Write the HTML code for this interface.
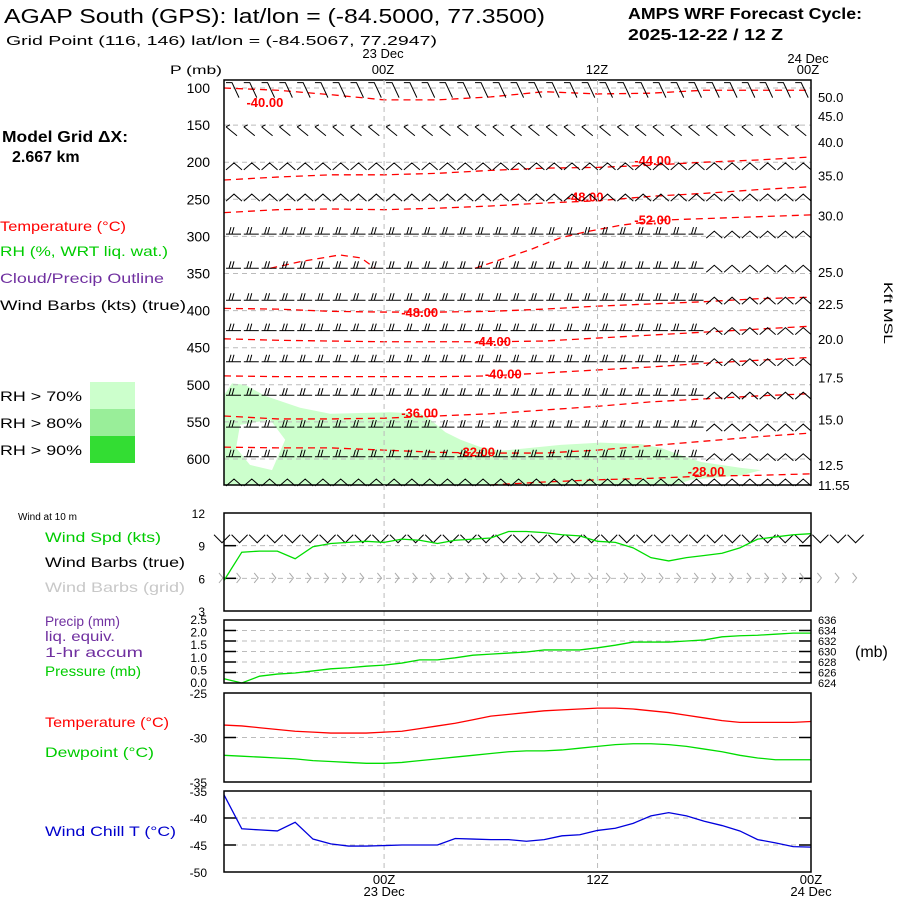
<!DOCTYPE html>
<html><head><meta charset="utf-8"><style>
html,body{margin:0;padding:0;background:#fff;}
svg text{font-family:"Liberation Sans",sans-serif;}
</style></head><body>
<svg id="c" width="900" height="900" viewBox="0 0 900 900" xmlns="http://www.w3.org/2000/svg">
<g>
<text x="4" y="23" font-size="20" textLength="541" lengthAdjust="spacingAndGlyphs">AGAP South (GPS):  lat/lon = (-84.5000, 77.3500)</text>
<text x="6" y="45" font-size="13" textLength="431" lengthAdjust="spacingAndGlyphs">Grid Point (116, 146) lat/lon = (-84.5067, 77.2947)</text>
<text x="628" y="19" font-size="16" font-weight="bold" textLength="234" lengthAdjust="spacingAndGlyphs">AMPS WRF Forecast Cycle:</text>
<text x="628" y="40" font-size="16" font-weight="bold" textLength="155" lengthAdjust="spacingAndGlyphs">2025-12-22 / 12  Z</text>
<text x="2" y="142" font-size="16" font-weight="bold" textLength="126" lengthAdjust="spacingAndGlyphs">Model Grid ΔX:</text>
<text x="12" y="162" font-size="16" font-weight="bold">2.667 km</text>
<text x="0" y="231" font-size="14" fill="#ff0000" textLength="126" lengthAdjust="spacingAndGlyphs">Temperature (°C)</text>
<text x="0" y="256" font-size="14" fill="#00cc00" textLength="168" lengthAdjust="spacingAndGlyphs">RH (%, WRT liq. wat.)</text>
<text x="0" y="283" font-size="14" fill="#7030a0" textLength="164" lengthAdjust="spacingAndGlyphs">Cloud/Precip Outline</text>
<text x="0" y="310" font-size="14" textLength="186" lengthAdjust="spacingAndGlyphs">Wind Barbs (kts) (true)</text>
<text x="0" y="401" font-size="14" textLength="82" lengthAdjust="spacingAndGlyphs">RH &gt; 70%</text>
<text x="0" y="428" font-size="14" textLength="82" lengthAdjust="spacingAndGlyphs">RH &gt; 80%</text>
<text x="0" y="455" font-size="14" textLength="82" lengthAdjust="spacingAndGlyphs">RH &gt; 90%</text>
<rect x="90" y="382" width="45" height="27" fill="#ccffcc"/>
<rect x="90" y="409" width="45" height="27" fill="#99ee99"/>
<rect x="90" y="436" width="45" height="27" fill="#33dd33"/>
<text x="170" y="74" font-size="12" textLength="52" lengthAdjust="spacingAndGlyphs">P (mb)</text>
<text x="884" y="282" font-size="12" transform="rotate(90 884 282)" textLength="62" lengthAdjust="spacingAndGlyphs">Kft MSL</text>
<text x="18" y="520" font-size="10">Wind at 10 m</text>
<text x="45" y="542" font-size="14" fill="#00cc00" textLength="116" lengthAdjust="spacingAndGlyphs">Wind Spd (kts)</text>
<text x="45" y="567" font-size="14" textLength="140" lengthAdjust="spacingAndGlyphs">Wind Barbs (true)</text>
<text x="45" y="592" font-size="14" fill="#c8c8c8" textLength="140" lengthAdjust="spacingAndGlyphs">Wind Barbs (grid)</text>
<text x="45" y="626" font-size="14" fill="#7030a0" textLength="75" lengthAdjust="spacingAndGlyphs">Precip (mm)</text>
<text x="45" y="641" font-size="14" fill="#7030a0" textLength="70" lengthAdjust="spacingAndGlyphs">liq. equiv.</text>
<text x="45" y="657" font-size="14" fill="#7030a0" textLength="98" lengthAdjust="spacingAndGlyphs">1-hr accum</text>
<text x="45" y="676" font-size="14" fill="#00cc00" textLength="96" lengthAdjust="spacingAndGlyphs">Pressure (mb)</text>
<text x="855" y="657" font-size="16">(mb)</text>
<text x="45" y="727" font-size="14" fill="#ff0000" textLength="124" lengthAdjust="spacingAndGlyphs">Temperature (°C)</text>
<text x="45" y="757" font-size="14" fill="#00cc00" textLength="109" lengthAdjust="spacingAndGlyphs">Dewpoint (°C)</text>
<text x="45" y="836" font-size="14" fill="#0000cc" textLength="131" lengthAdjust="spacingAndGlyphs">Wind Chill T (°C)</text>
</g>
</svg>
<script>
// ---- data ----
const timeLabelsTop = ["23 Dec","00Z","12Z","24 Dec","00Z"];
const pressTicks = [100,150,200,250,300,350,400,450,500,550,600];
const kftLabels = ["50.0","45.0","40.0","35.0","30.0","25.0","22.5","20.0","17.5","15.0","12.5","11.55"];
const kftMb = [112,138,173,218,272,348,391,438,490,547,608,635];
const contourHours = [0,3,6,9,12,15,18,21,24,27,30,33];
const c1 = [100,103,109,116,116,112,105,108,107,103,103,103];
const c2 = [224,220,217,217,215,211,208,207,204,200,197,193];
const c3 = [268,264,263,264,262,259,255,252,246,242,237,233];
const c5 = [397,398,401,402,402,401,398,394,391,388,384,382];
const c6 = [438,440,441,442,442,442,441,437,433,429,425,421];
const c7 = [488,489,489,489,489,488,484,480,476,471,467,463];
const c8 = [542,546,546,545,542,539,534,529,523,519,515,512];
const c9 = [584,585,585,588,591,592,592,588,582,576,570,565];
const c4Hours = [14.1,17.2,18.9,20.3,22.3,24.6,33];
const c4Press = [343,318,302,294,285,278,271];
const c4bHours = [2.6,4.3,6.5,7.7,8.5];
const c4bPress = [343,334,325,329,343];
const c10Hours = [15,18,21,24,27,30,33];
const c10Press = [635,631,628,626,623,622,620];
const contourLabels = ["-40.00","-44.00","-48.00","-52.00","-48.00","-44.00","-40.00","-36.00","-32.00","-28.00"];
const labelHours = [2.3,24.1,20.3,24.1,11,15.1,15.7,11,14.2,27.1];
const labelPress = [119,197,246,277,402,441,485,537,590,616];
const rhHours = [0,0.45,1.18,2.31,4.28,5.97,9.35,11.04,11.6,12.45,13.3,14.42,15.55,18.93,21.18,23.44,24.56,25.69,26.82,29.07,30.2,29.07,26.25,25.4,0];
const rhPress = [514,498,500,515,531,539,537,539,547,564,574,584,589,581,578,580,585,595,604,612,615,622,628,635,635];
const holeHours = [0.9,2.59,3.44,2.7,1.46,0.68];
const holePress = [554,547,574,615,608,585];
const barbPress = [113,159,205,247,297,343,386,427,469,514,557,597,631];
const windSpd = [5.8,8.4,8.5,8.5,7.8,8.9,9.2,9.3,9.4,9.3,9.6,9.5,9.2,9.5,9.6,9.7,10.3,10.3,10.2,10.0,9.9,9.4,9.3,8.8,7.9,7.6,7.9,8.1,8.3,8.8,9.6,9.8,10.0,10.1];
const pressure = [624.8,624.0,625.3,625.7,625.9,626.3,626.7,626.9,627.2,627.4,627.8,628.4,628.4,628.8,629.3,629.5,629.7,629.9,630.3,630.3,630.3,630.7,631.2,631.8,631.8,631.8,632.0,632.2,632.8,633.0,633.1,633.3,633.5,633.5];
const temp = [-28.6,-28.7,-28.9,-29.1,-29.3,-29.4,-29.5,-29.5,-29.5,-29.4,-29.3,-29.0,-28.7,-28.4,-28.0,-27.6,-27.4,-27.2,-27.0,-26.9,-26.8,-26.7,-26.7,-26.8,-27.0,-27.2,-27.5,-27.8,-28.1,-28.3,-28.3,-28.3,-28.3,-28.2];
const dewp = [-32.0,-32.1,-32.2,-32.3,-32.4,-32.6,-32.7,-32.8,-32.9,-32.9,-32.8,-32.6,-32.4,-32.2,-32.0,-31.8,-31.6,-31.5,-31.5,-31.4,-31.2,-31.0,-30.8,-30.7,-30.7,-30.8,-31.0,-31.3,-31.6,-32.0,-32.3,-32.5,-32.5,-32.5];
const windChill = [-35.7,-42.0,-42.2,-42.4,-40.8,-43.9,-44.8,-45.2,-45.2,-45.1,-45.0,-45.0,-45.0,-43.8,-43.9,-44.0,-44.0,-44.3,-44.0,-43.3,-43.1,-42.3,-41.9,-41.0,-39.6,-39.0,-39.6,-40.6,-41.4,-42.4,-44.0,-44.6,-45.3,-45.4];
const windTicks = [12,9,6,3];
const precipTicks = ["2.5","2.0","1.5","1.0","0.5","0.0"];
const presTicksR = [636,634,632,630,628,626,624];
const tempTicks = [-25,-30,-35];
const wcTicks = [-35,-40,-45,-50];

// ---- scales ----
const X0=224,X1=811,NH=33;
const x=h=>X0+h*(X1-X0)/NH;
const yP=p=>88+(p-100)*0.742;
const lin=(v,a,b,ya,yb)=>ya+(v-a)*(yb-ya)/(b-a);
const svg=document.getElementById('c');
const NS='http://www.w3.org/2000/svg';
function mk(tag,attrs,parent){const e=document.createElementNS(NS,tag);for(const k in attrs)e.setAttribute(k,attrs[k]);(parent||svg).appendChild(e);return e;}
function txt(s,xx,yy,attrs,parent){const e=mk('text',Object.assign({x:xx,y:yy},attrs),parent);e.textContent=s;return e;}

// ---- main panel ----
const main=mk('g',{});


const rhPts=rhHours.map((h,i)=>x(h)+','+yP(rhPress[i])).join(' ');
const rh=mk('polygon',{points:rhPts,fill:'#ccffcc'},main);


const hole=mk('polygon',{points:holeHours.map((h,i)=>x(h)+','+yP(holePress[i])).join(' '),fill:'#fff'},main);


pressTicks.forEach(p=>{
  const g=mk('line',{x1:X0,x2:X1,y1:yP(p),y2:yP(p),stroke:'#bbb','stroke-dasharray':'5,4'},main);
  
  
  const t=txt(String(p),210,yP(p)+5,{'font-size':14,'text-anchor':'end'},main);
  
  
});
[9,21].forEach(h=>{
  const v=mk('line',{x1:x(h),x2:x(h),y1:80,y2:872,stroke:'#bbb','stroke-dasharray':'5,4'});
  
  
});
kftLabels.forEach((s,i)=>{
  const t=txt(s,818,yP(kftMb[i])+5,{'font-size':13},main);
  
  
});
function contour(hs,ps,name){
  const p=mk('polyline',{points:hs.map((h,i)=>x(h)+','+yP(ps[i])).join(' '),fill:'none',stroke:'#ff0000','stroke-width':1.3,'stroke-dasharray':'7,5'},main);
  
  
}
contour(contourHours,c1,'isotherm-upper-40');
contour(contourHours,c2,'isotherm-upper-44');
contour(contourHours,c3,'isotherm-upper-48');
contour(c4Hours,c4Press,'isotherm-52');
contour(c4bHours,c4bPress,'isotherm-52-left');
contour(contourHours,c5,'isotherm-48');
contour(contourHours,c6,'isotherm-44');
contour(contourHours,c7,'isotherm-40');
contour(contourHours,c8,'isotherm-36');
contour(contourHours,c9,'isotherm-32');
contour(c10Hours,c10Press,'isotherm-28');
contourLabels.forEach((s,i)=>{
  const t=txt(s,x(labelHours[i]),yP(labelPress[i])+5,{'font-size':13,'font-weight':'bold',fill:'#ff0000','text-anchor':'middle'},main);
  
  
});
barbPress.forEach((p,r)=>{
  const y=yP(p);let d='';
  for(let i=0;i<34;i++){
    const bx=x(i)+2; if(bx>X1-4) break;
    if(r===0){d+=`M${bx},${y-15}h6l7,15`;}
    else if(r===1){d+=`M${bx},${y-5}l4,-2M${bx},${y-5}l11,9`;}
    else if(r===2||r===3||r===12||(i>26&&r>3)){d+=`M${bx},${y+4}l8,-7l8,7`;}
    else{d+=`M${bx},${y}h15M${bx+3},${y}l2,-7M${bx+6},${y}l2,-7`;}
  }
  const b=mk('path',{d:d,fill:'none',stroke:'#000','stroke-width':1},main);
  
  
});
const mb=mk('rect',{x:X0,y:80,width:X1-X0,height:405,fill:'none',stroke:'#000','stroke-width':1.5},main);


[[383,58],[383,74],[597,74],[808,63],[808,74]].forEach((a,i)=>{
  const t=txt(timeLabelsTop[i],a[0],a[1],{'font-size':13,'text-anchor':'middle'});
  
  
});

// ---- lower panels ----
function panel(y0,y1,name){
  const f=mk('rect',{x:X0,y:y0,width:X1-X0,height:y1-y0,fill:'none',stroke:'#000','stroke-width':1.5});
  
  
}
function grid(y,name){
  const g=mk('line',{x1:X0,x2:X1,y1:y,y2:y,stroke:'#bbb','stroke-dasharray':'5,4'});
  
  
  const t1=mk('line',{x1:X0,x2:X0+12,y1:y,y2:y,stroke:'#000','stroke-width':1.5});
  
  
  const t2=mk('line',{x1:X1-12,x2:X1,y1:y,y2:y,stroke:'#000','stroke-width':1.5});
  
  
}
function series(vals,ys,color,name){
  const p=mk('polyline',{points:vals.map((v,i)=>x(i)+','+ys(v)).join(' '),fill:'none',stroke:color,'stroke-width':1.3});
  
  
}
const yW=v=>lin(v,3,12,611,513);
windTicks.forEach(v=>{ if(v!==12&&v!==3) grid(yW(v),'wind-gridline');
  const t=txt(String(v),205,yW(v)+5,{'font-size':12,'text-anchor':'end'});
  
  });
let bd='',gd='';
for(let i=0;i<37;i++){const bx=214+i*17.6;bd+=`M${bx},${yW(10)}l8,8l8,-8`;gd+=`M${bx+5},${yW(6.5)}l4,5l-4,5`;}
const wb=mk('path',{d:bd,fill:'none',stroke:'#000'});


const gb=mk('path',{d:gd,fill:'none',stroke:'#aaa'});


series(windSpd,yW,'#00dd00','wind-speed-line');
panel(513,611,'wind-panel-frame');
const yPr=v=>lin(v,624,636,683,620);
presTicksR.forEach((v,i)=>{ if(i>0&&i<6) grid(yPr(v),'pressure-gridline');
  const t=txt(String(v),818,yPr(v)+4,{'font-size':11});
  
  });
precipTicks.forEach((s,i)=>{
  const t=txt(s,207,lin(i,0,5,620,683)+4,{'font-size':12,'text-anchor':'end'});
  
  });
series(pressure,yPr,'#00dd00','pressure-line');
panel(620,683,'precip-panel-frame');
const yT=v=>lin(v,-25,-35,693,782);
tempTicks.forEach(v=>{ if(v===-30) grid(yT(v),'temp-gridline');
  const t=txt(String(v),207,yT(v)+5,{'font-size':12,'text-anchor':'end'});
  
  });
series(temp,yT,'#ff0000','temperature-line');
series(dewp,yT,'#00dd00','dewpoint-line');
panel(693,782,'temp-panel-frame');
const yC=v=>lin(v,-35,-50,791,872);
wcTicks.forEach(v=>{ if(v===-40||v===-45) grid(yC(v),'windchill-gridline');
  const t=txt(String(v),207,yC(v)+5,{'font-size':12,'text-anchor':'end'});
  
  });
series(windChill,yC,'#0000dd','windchill-line');
panel(791,872,'windchill-panel-frame');
[[9,884,'00Z'],[9,896,'23 Dec'],[21,884,'12Z'],[33,884,'00Z'],[33,896,'24 Dec']].forEach(a=>{
  const t=txt(a[2],x(a[0]),a[1],{'font-size':13,'text-anchor':'middle'});
  
  
});
</script>
</body></html>
